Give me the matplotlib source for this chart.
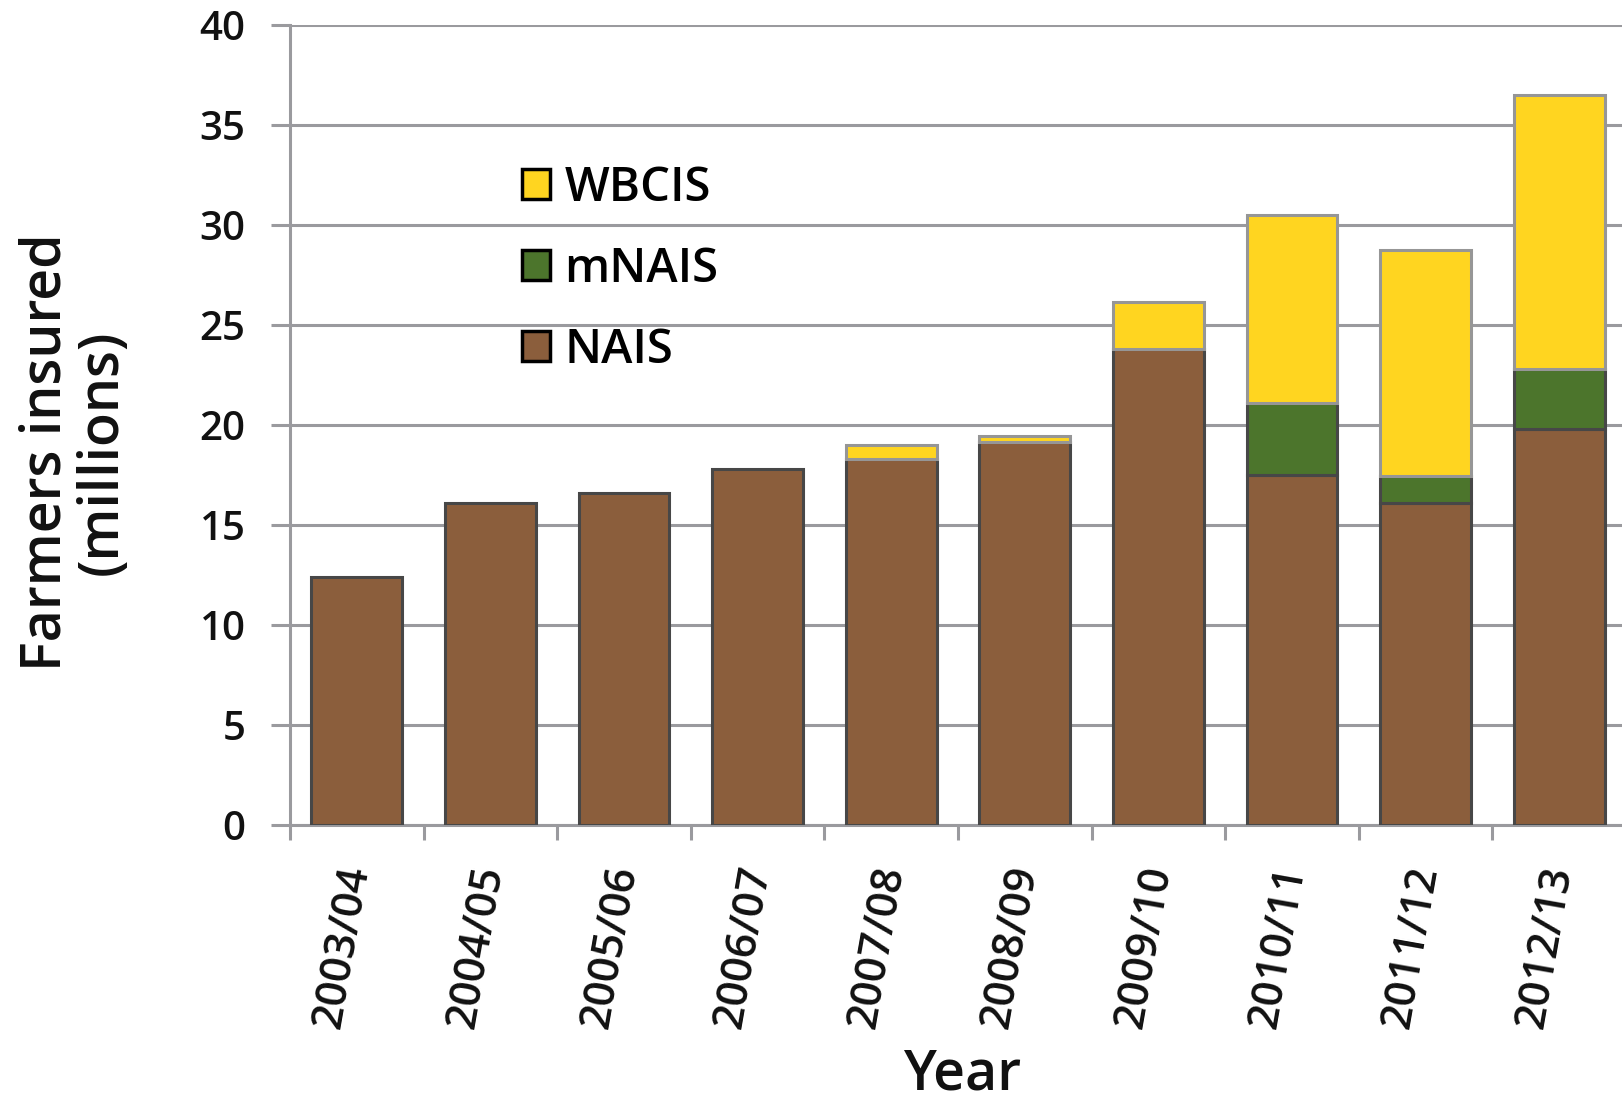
# Agricultural insurance coverage by scheme, stacked bars per crop year.

import numpy as np
import matplotlib
matplotlib.use("Agg")
import matplotlib.pyplot as plt
from matplotlib.patches import Patch

anos = ["2003/04", "2004/05", "2005/06", "2006/07", "2007/08",
        "2008/09", "2009/10", "2010/11", "2011/12", "2012/13"]
nais = [12.4, 16.1, 16.6, 17.8, 18.3, 19.15, 23.8, 17.5, 16.1, 19.8]
mnais = [0, 0, 0, 0, 0, 0, 0, 3.6, 1.35, 3.0]
wbcis = [0, 0, 0, 0, 0.7, 0.3, 2.35, 9.4, 11.3, 13.7]
y_ticks = [0, 5, 10, 15, 20, 25, 30, 35, 40]

COR_NAIS = "#8b5e3c"
COR_MNAIS = "#4c752c"
COR_WBCIS = "#ffd520"
BORDA_ESCURA = "#474747"
BORDA_CLARA = "#969696"
CINZA = "#9a9a9e"
TEXTO = "#111111"

plt.rcParams["font.family"] = ["Open Sans", "DejaVu Sans"]
plt.rcParams["font.weight"] = "semibold"

fig = plt.figure(figsize=(16.22, 11.04), dpi=100)
ax = fig.add_axes([290 / 1622, 1 - 825 / 1104, 1336 / 1622, 800 / 1104])

x = np.arange(len(anos))
nais = np.array(nais)
mnais = np.array(mnais)
wbcis = np.array(wbcis)
w = 0.68

ax.bar(x, nais, w, color=COR_NAIS, edgecolor=BORDA_ESCURA, linewidth=2.2, zorder=3)
m = mnais > 0
ax.bar(x[m], mnais[m], w, bottom=nais[m], color=COR_MNAIS,
       edgecolor=BORDA_ESCURA, linewidth=2.2, zorder=3)
m = wbcis > 0
ax.bar(x[m], wbcis[m], w, bottom=(nais + mnais)[m], color=COR_WBCIS,
       edgecolor=BORDA_CLARA, linewidth=2.2, zorder=4)

ax.set_xlim(-0.5, 9.5)
ax.set_ylim(0, 40)
ax.set_yticks(y_ticks)
ax.set_yticklabels([str(v) for v in y_ticks], fontsize=29, color=TEXTO)
ax.yaxis.grid(True, color=CINZA, linewidth=2.2, zorder=0)
ax.set_axisbelow(True)
ax.tick_params(axis="y", length=14, width=2.2, color=CINZA, pad=18)

ax.set_xticks(x)
ax.set_xticklabels(anos, fontsize=31, rotation=80, rotation_mode="anchor",
                   ha="right", va="center", color=TEXTO)
ax.tick_params(axis="x", which="major", length=0, pad=30)
ax.set_xticks(np.arange(-0.5, 10, 1.0), minor=True)
ax.tick_params(axis="x", which="minor", length=11, width=2.2, color=CINZA)

for lado in ["top", "right"]:
    ax.spines[lado].set_visible(False)
for lado in ["left", "bottom"]:
    ax.spines[lado].set_color(CINZA)
    ax.spines[lado].set_linewidth(2.2)

fig.text(962 / 1622, 1 / 1104, "Year", fontsize=40, ha="center", va="bottom",
         color=TEXTO)
fig.text(75 / 1622, 1 - 452 / 1104, "Farmers insured\n(millions)", fontsize=40,
         rotation=90, ha="center", va="center", multialignment="center",
         linespacing=1.0, color=TEXTO)

handles = [Patch(facecolor=COR_WBCIS, edgecolor="black", linewidth=2.5),
           Patch(facecolor=COR_MNAIS, edgecolor="black", linewidth=2.5),
           Patch(facecolor=COR_NAIS, edgecolor="black", linewidth=2.5)]
leg = fig.legend(handles, ["WBCIS", "mNAIS", "NAIS"], loc="upper left",
                 bbox_to_anchor=(503 / 1622, 1 - 146 / 1104), frameon=False,
                 fontsize=34, handlelength=0.6, handleheight=0.6,
                 handletextpad=0.3, labelspacing=0.72, borderaxespad=0)

fig.savefig("out.png", dpi=100, facecolor="white")
